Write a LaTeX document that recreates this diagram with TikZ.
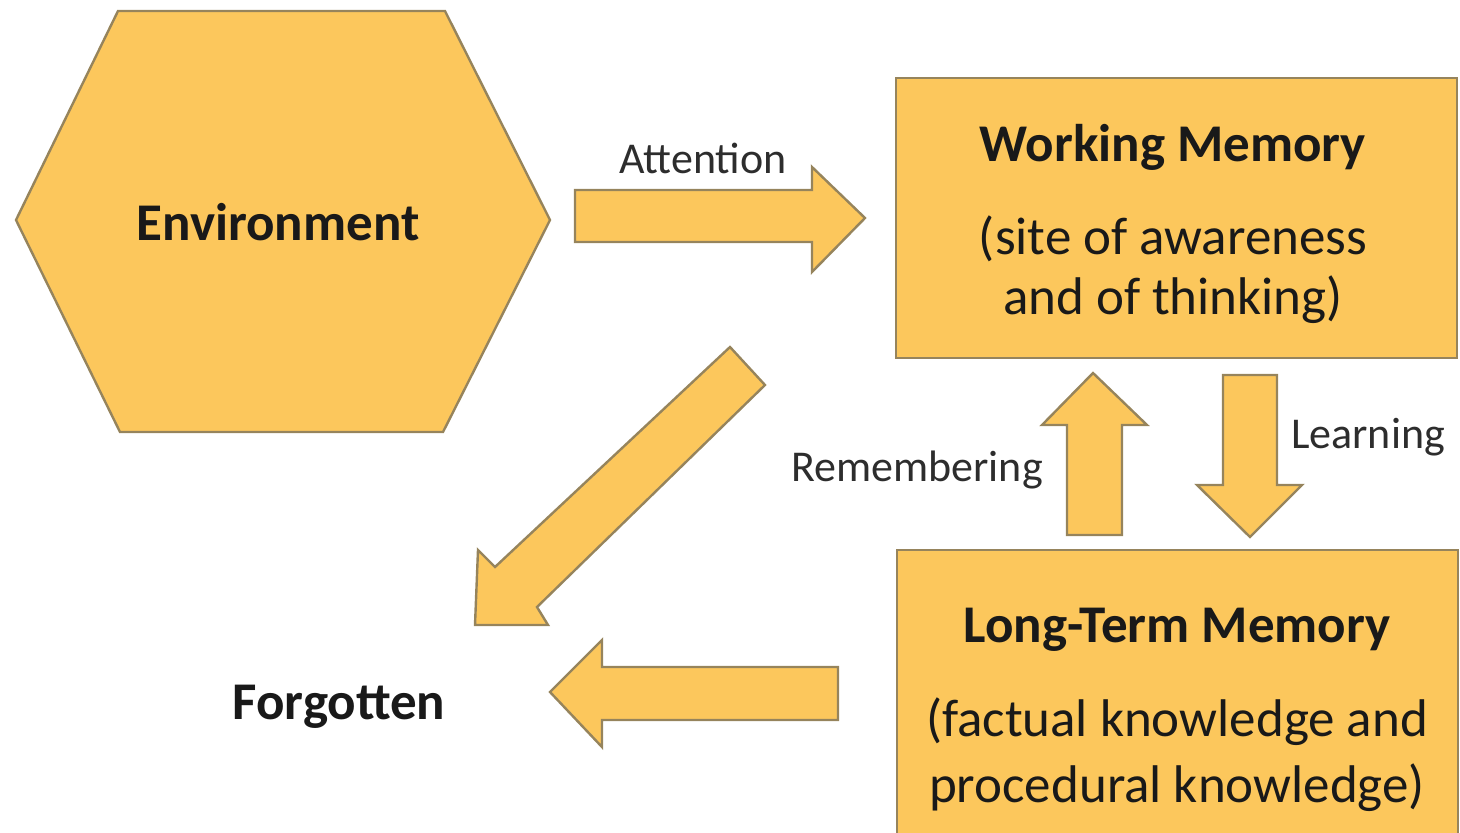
\documentclass[tikz,border=0pt]{standalone}
\usepackage{fontspec}
\setmainfont{Carlito}
\usepackage{xcolor}
\definecolor{boxfill}{RGB}{252,199,92}
\definecolor{boxline}{RGB}{150,132,92}
\definecolor{labeltext}{RGB}{45,45,45}

\begin{document}
\begin{tikzpicture}[x=0.5pt,y=-0.5pt,
  block/.style={draw=boxline,line width=1.2pt,fill=boxfill,line join=miter},
  big/.style={font=\fontsize{26.5}{30}\selectfont,text=black!90},
  bigb/.style={font=\fontsize{26.5}{30}\selectfont\bfseries,text=black!90},
  lbl/.style={font=\fontsize{22}{26}\selectfont,text=labeltext}]
 \useasboundingbox (0,0) rectangle (1460,832);

 % the three places
 \draw[block] (16,220) -- (118,11) -- (445,11) -- (550,220) -- (443,432) -- (120,432) -- cycle;
 \draw[block] (896,78) rectangle (1457,358);
 \draw[block] (897,550) rectangle (1458,840);

 % block arrows
 \draw[block] (575,190) -- ++(237,0) -- ++(0,-23) -- ++(53,51) -- ++(-53,54) -- ++(0,-30) -- ++(-237,0) -- cycle;
 \draw[block] (1067,535) -- ++(0,-110) -- ++(-25,0) -- ++(51,-52) -- ++(54,52) -- ++(-25,0) -- ++(0,110) -- cycle;
 \draw[block] (1223,375) -- ++(54,0) -- ++(0,110) -- ++(25,0) -- ++(-52,52) -- ++(-53,-52) -- ++(26,0) -- cycle;
 \draw[block] (838,667) -- ++(-236,0) -- ++(0,-27) -- ++(-52,52) -- ++(52,55) -- ++(0,-27) -- ++(236,0) -- cycle;
 \draw[block] (730,347) -- ++(35,38) -- ++(-228,222) -- ++(11,18) -- ++(-73,0) -- ++(3,-75) -- ++(17,17) -- cycle;

 % texts
 \node[bigb] (env) at (278,222) {Environment};
 \node[bigb] (wm) at (1173,147) {Working Memory};
 \node[big,align=center] (wmnote) at (1173,270) {(site of awareness\\and of thinking)};
 \node[bigb] (ltm) at (1177,630) {Long-Term Memory};
 \node[big,align=center,font=\fontsize{26.5}{33}\selectfont] (ltmnote) at (1177,755) {(factual knowledge and\\procedural knowledge)};
 \node[bigb] (forgot) at (339,707) {Forgotten};
 \node[lbl] (attn) at (703,158) {Attention};
 \node[lbl] (remem) at (917,470) {Remembering};
 \node[lbl] (learn) at (1368,437) {Learning};
\end{tikzpicture}
\end{document}
